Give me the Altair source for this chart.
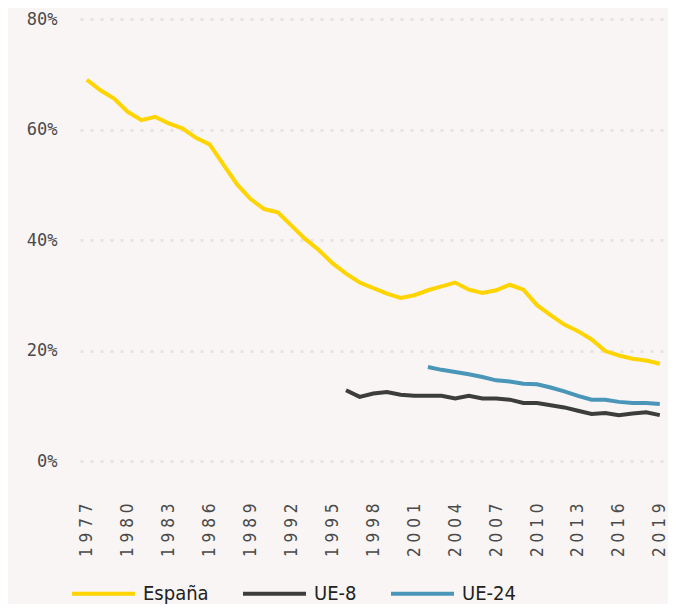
import altair as alt
import pandas as pd

years_es = list(range(1977, 2020))
espana = [69.0, 67.1, 65.6, 63.2, 61.7, 62.3, 61.1, 60.2, 58.5, 57.3,
          53.7, 50.1, 47.4, 45.6, 45.0, 42.6, 40.2, 38.2, 35.8, 33.9,
          32.3, 31.3, 30.3, 29.5, 30.0, 30.9, 31.6, 32.3, 31.0, 30.4,
          30.9, 31.9, 31.0, 28.2, 26.4, 24.7, 23.5, 22.0, 19.9, 19.1,
          18.5, 18.2, 17.6]

years_ue8 = list(range(1996, 2020))
ue8 = [12.8, 11.6, 12.2, 12.5, 12.0, 11.8, 11.8, 11.8, 11.3, 11.8,
       11.3, 11.3, 11.1, 10.5, 10.5, 10.1, 9.7, 9.1, 8.5, 8.7,
       8.3, 8.6, 8.8, 8.3]

years_ue24 = list(range(2002, 2020))
ue24 = [17.0, 16.5, 16.1, 15.7, 15.2, 14.6, 14.4, 14.0, 13.9, 13.3,
        12.6, 11.8, 11.1, 11.1, 10.7, 10.5, 10.5, 10.3]

series = ["España", "UE-8", "UE-24"]
colors = ["#FFD400", "#3d3d3d", "#4a96b8"]
x_ticks = list(range(1977, 2020, 3))
y_ticks = [0, 20, 40, 60, 80]

rows = []
for name, ys, vs in [("España", years_es, espana), ("UE-8", years_ue8, ue8), ("UE-24", years_ue24, ue24)]:
    for y, v in zip(ys, vs):
        rows.append({"year": y, "value": v, "serie": name})
df = pd.DataFrame(rows)

bg = "#f8f5f4"
narrow = "Liberation Sans Narrow, DejaVu Sans Condensed, sans-serif"

chart = alt.Chart(df).mark_line(strokeWidth=4).encode(
    x=alt.X("year:Q", scale=alt.Scale(domain=[1976.5, 2019.6], nice=False, zero=False),
            axis=alt.Axis(values=x_ticks, title=None, grid=False, domain=False, ticks=False, tickSize=0,
                          labelAngle=-90, labelPadding=42, labelFontSize=17,
                          labelFont=narrow, labelColor="#4a4a4a",
                          labelExpr="join(split(toString(datum.value), ''), ' ')")),
    y=alt.Y("value:Q", scale=alt.Scale(domain=[0, 80], nice=False),
            axis=alt.Axis(values=y_ticks, title=None, domain=False, ticks=False, tickSize=0,
                          labelPadding=23, labelFontSize=17, labelFont="DejaVu Sans Mono",
                          labelColor="#4a4a4a", minExtent=72, maxExtent=72,
                          gridDash=[3, 7], gridWidth=3, gridColor="#e6e3e1",
                          labelExpr="datum.value + '%'")),
    color=alt.Color("serie:N", scale=alt.Scale(domain=series, range=colors),
                    legend=alt.Legend(title=None, orient="none", legendX=11, legendY=562,
                                      direction="horizontal", symbolType="M-3,0H3",
                                      symbolSize=441, symbolStrokeWidth=4,
                                      labelFontSize=20, labelOffset=27, columnPadding=26,
                                      labelFont=narrow, labelColor="#222222", padding=0)),
).properties(
    width=588, height=442,
    padding={"left": 0, "top": 2, "right": 0, "bottom": 0},
    background=bg,
).configure_view(stroke=None)

chart.save("out.html", embed_options={"renderer": "svg", "actions": False})
